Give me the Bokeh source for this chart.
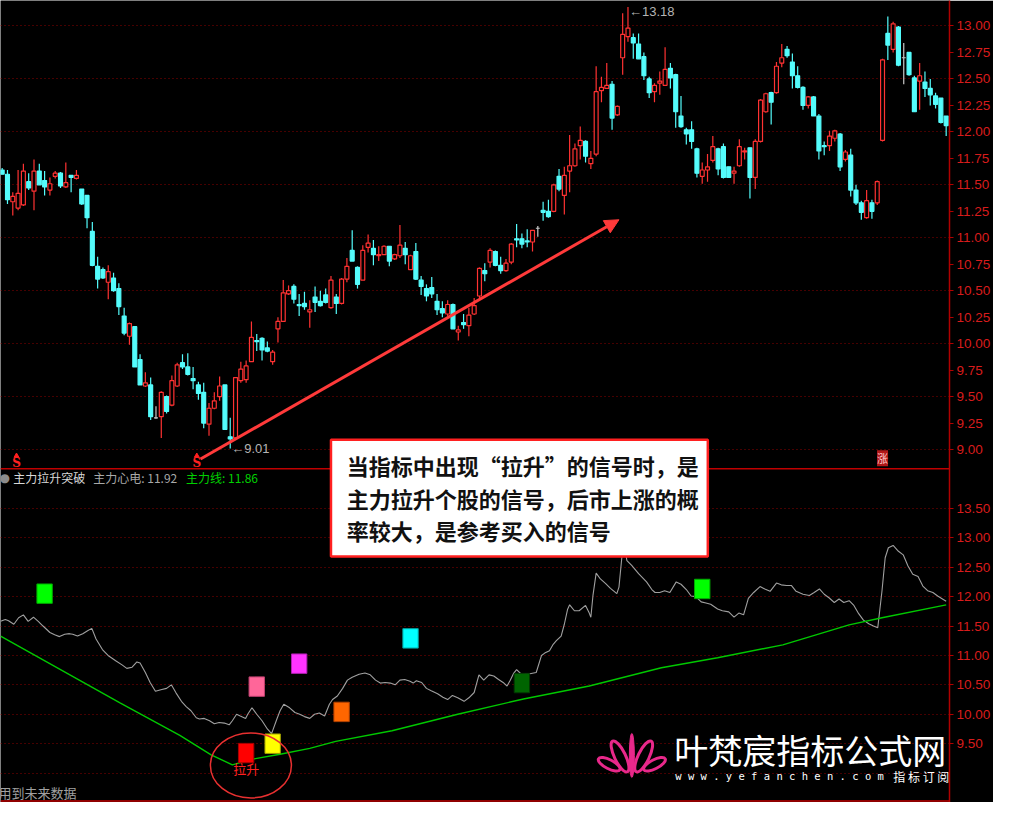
from bokeh.plotting import figure
from bokeh.models import (Range1d, LinearAxis, FixedTicker, Grid, Span, Label,
                          BoxAnnotation, Arrow, NormalHead, ColumnDataSource,
                          NumeralTickFormatter)
from bokeh.core.properties import value
from bokeh.embed import file_html
from bokeh.resources import INLINE

# ---------------- data ----------------
opens = [11.64, 11.60, 11.34, 11.28, 11.31, 11.53, 11.44, 11.63, 11.54, 11.45,
         11.58, 11.61, 11.48, 11.59, 11.56, 11.46, 11.40, 11.06, 10.73, 10.70,
         10.58, 10.62, 10.52, 10.26, 10.07, 10.16, 9.85, 9.60, 9.61, 9.30,
         9.31, 9.50, 9.42, 9.60, 9.82, 9.78, 9.67, 9.61, 9.54, 9.24,
         9.39, 9.50, 9.61, 9.12, 9.11, 9.65, 9.66, 9.83, 10.03, 10.05,
         9.96, 9.83, 10.14, 10.21, 10.47, 10.54, 10.37, 10.38, 10.30, 10.44,
         10.40, 10.46, 10.34, 10.44, 10.38, 10.61, 10.88, 10.72, 10.60, 10.91,
         10.90, 10.83, 10.84, 10.92, 10.80, 10.83, 10.90, 10.70, 10.87, 10.60,
         10.52, 10.53, 10.40, 10.33, 10.28, 10.37, 10.11, 10.20, 10.17, 10.28,
         10.45, 10.69, 10.77, 10.87, 10.74, 10.69, 10.77, 10.99, 10.99, 10.97,
         10.96, 11.09, 11.26, 11.25, 11.25, 11.58, 11.40, 11.63, 11.68, 11.87,
         11.91, 11.70, 11.79, 12.39, 12.41, 12.45, 12.16, 12.70, 12.90, 12.89,
         12.83, 12.71, 12.50, 12.38, 12.46, 12.44, 12.60, 12.54, 12.15, 12.02,
         12.02, 11.84, 11.58, 11.64, 11.73, 11.84, 11.86, 11.67, 11.61, 11.68,
         11.81, 11.85, 11.57, 11.91, 12.19, 12.37, 12.37, 12.65, 12.78, 12.66,
         12.53, 12.42, 12.25, 12.33, 12.15, 11.87, 11.87, 11.94, 11.98, 11.74,
         11.78, 11.45, 11.33, 11.19, 11.33, 11.33, 11.92, 12.93, 12.78, 12.99,
         12.70, 12.75, 12.51, 12.48, 12.47, 12.41, 12.34, 12.32, 12.15]
highs = [11.66, 11.64, 11.43, 11.64, 11.70, 11.61, 11.74, 11.70, 11.63, 11.57,
         11.63, 11.62, 11.71, 11.59, 11.64, 11.46, 11.40, 11.15, 10.82, 10.72,
         10.74, 10.67, 10.57, 10.34, 10.20, 10.16, 9.90, 9.73, 9.68, 9.41,
         9.55, 9.51, 9.70, 9.82, 9.90, 9.91, 9.78, 9.64, 9.63, 9.44,
         9.54, 9.69, 9.61, 9.30, 9.68, 9.83, 9.84, 10.21, 10.09, 10.06,
         10.02, 9.94, 10.25, 10.60, 10.55, 10.56, 10.47, 10.49, 10.41, 10.54,
         10.50, 10.52, 10.64, 10.47, 10.62, 10.81, 11.07, 10.73, 10.93, 11.03,
         10.98, 10.92, 10.93, 10.92, 10.85, 11.12, 10.96, 10.84, 10.95, 10.64,
         10.56, 10.63, 10.47, 10.40, 10.41, 10.38, 10.17, 10.28, 10.34, 10.43,
         10.72, 10.76, 10.90, 10.88, 10.82, 10.80, 10.95, 11.13, 11.04, 11.08,
         11.07, 11.11, 11.34, 11.36, 11.51, 11.65, 11.67, 11.97, 11.89, 12.05,
         11.92, 11.82, 12.62, 12.52, 12.65, 12.48, 12.25, 13.12, 13.18, 12.93,
         12.93, 12.75, 12.52, 12.46, 12.57, 12.80, 12.65, 12.55, 12.34, 12.04,
         12.10, 11.85, 11.71, 11.79, 11.96, 11.85, 11.89, 11.67, 11.67, 11.93,
         11.85, 11.85, 11.93, 12.31, 12.37, 12.38, 12.66, 12.83, 12.81, 12.74,
         12.62, 12.43, 12.34, 12.34, 12.17, 11.91, 12.01, 12.02, 11.99, 11.83,
         11.84, 11.50, 11.35, 11.45, 11.36, 11.54, 12.69, 13.09, 13.04, 13.00,
         12.84, 12.75, 12.53, 12.65, 12.57, 12.50, 12.37, 12.32, 12.15]
lows = [11.60, 11.32, 11.21, 11.26, 11.30, 11.45, 11.26, 11.50, 11.40, 11.40,
        11.56, 11.47, 11.47, 11.43, 11.55, 11.31, 11.09, 10.73, 10.52, 10.61,
        10.42, 10.49, 10.27, 10.08, 9.99, 9.78, 9.61, 9.59, 9.28, 9.29,
        9.11, 9.34, 9.41, 9.59, 9.76, 9.70, 9.57, 9.47, 9.20, 9.13,
        9.38, 9.46, 9.19, 9.01, 9.10, 9.63, 9.63, 9.83, 9.93, 9.84,
        9.92, 9.80, 10.01, 10.21, 10.46, 10.38, 10.26, 10.32, 10.15, 10.30,
        10.35, 10.38, 10.33, 10.28, 10.37, 10.58, 10.78, 10.52, 10.60, 10.86,
        10.74, 10.78, 10.84, 10.73, 10.79, 10.81, 10.75, 10.70, 10.60, 10.46,
        10.40, 10.43, 10.27, 10.25, 10.26, 10.14, 10.03, 10.14, 10.07, 10.27,
        10.43, 10.59, 10.72, 10.73, 10.66, 10.68, 10.75, 10.91, 10.90, 10.91,
        10.87, 11.01, 11.16, 11.19, 11.24, 11.44, 11.22, 11.43, 11.67, 11.74,
        11.71, 11.65, 11.77, 12.28, 12.41, 12.02, 12.15, 12.54, 12.85, 12.69,
        12.69, 12.49, 12.32, 12.28, 12.35, 12.44, 12.41, 12.04, 12.04, 11.88,
        11.84, 11.57, 11.51, 11.53, 11.71, 11.59, 11.56, 11.57, 11.51, 11.67,
        11.74, 11.37, 11.46, 11.90, 12.18, 12.07, 12.36, 12.61, 12.70, 12.41,
        12.41, 12.21, 12.22, 12.15, 11.74, 11.78, 11.82, 11.91, 11.63, 11.72,
        11.39, 11.31, 11.17, 11.18, 11.18, 11.31, 11.91, 12.68, 12.75, 12.62,
        12.45, 12.53, 12.19, 12.21, 12.33, 12.25, 12.22, 12.08, 11.96]
closes = [11.60, 11.36, 11.39, 11.42, 11.63, 11.47, 11.63, 11.50, 11.48, 11.51,
          11.61, 11.49, 11.52, 11.57, 11.59, 11.32, 11.19, 10.74, 10.61, 10.62,
          10.68, 10.50, 10.35, 10.10, 10.19, 9.78, 9.61, 9.63, 9.31, 9.30,
          9.54, 9.36, 9.65, 9.80, 9.78, 9.71, 9.65, 9.53, 9.25, 9.39,
          9.46, 9.60, 9.19, 9.10, 9.68, 9.76, 9.79, 10.06, 10.02, 9.94,
          9.93, 9.92, 10.21, 10.48, 10.50, 10.42, 10.36, 10.35, 10.32, 10.39,
          10.36, 10.39, 10.60, 10.38, 10.61, 10.73, 10.78, 10.56, 10.88, 10.95,
          10.84, 10.84, 10.92, 10.78, 10.84, 10.93, 10.84, 10.83, 10.61, 10.54,
          10.45, 10.47, 10.32, 10.29, 10.37, 10.14, 10.13, 10.18, 10.27, 10.36,
          10.71, 10.66, 10.88, 10.74, 10.69, 10.76, 10.94, 10.98, 10.94, 10.96,
          11.07, 11.09, 11.24, 11.20, 11.50, 11.46, 11.59, 11.68, 11.84, 11.92,
          11.77, 11.75, 12.38, 12.42, 12.44, 12.13, 12.24, 12.92, 12.98, 12.84,
          12.69, 12.53, 12.37, 12.44, 12.48, 12.59, 12.51, 12.19, 12.05, 11.98,
          11.91, 11.61, 11.64, 11.67, 11.86, 11.65, 11.57, 11.57, 11.63, 11.86,
          11.82, 11.57, 11.91, 12.30, 12.36, 12.28, 12.62, 12.70, 12.72, 12.53,
          12.42, 12.25, 12.33, 12.15, 11.82, 11.86, 11.96, 12.01, 11.67, 11.81,
          11.45, 11.33, 11.24, 11.35, 11.25, 11.53, 12.68, 12.82, 13.02, 12.63,
          12.70, 12.54, 12.19, 12.53, 12.41, 12.35, 12.26, 12.09, 12.06]

# 主力心电 (gray line): bar position, value
gray_x = [-0.3, 0.6, 1.2, 2.2, 3.1, 4.0, 4.9, 5.9, 6.8, 7.7,
          9.0, 9.9, 10.8, 11.8, 12.7, 13.3, 14.2, 15.2, 16.1, 16.9,
          17.7, 18.9, 20.1, 21.4, 22.6, 23.5, 24.5, 25.4, 26.0, 27.0,
          27.9, 28.9, 30.1, 31.0, 31.9, 32.8, 33.8, 34.7, 35.6, 36.6,
          37.2, 38.1, 39.1, 40.0, 40.9, 41.9, 42.8, 43.4, 44.2, 44.9,
          45.9, 46.3, 47.1, 48.0, 49.0, 50.0, 50.8, 51.8, 52.4, 53.1,
          54.2, 55.2, 56.1, 57.0, 58.0, 58.9, 59.8, 60.8, 61.7, 62.3,
          63.2, 64.2, 65.1, 66.0, 67.3, 68.4, 69.4, 70.4, 71.3, 72.2,
          73.2, 74.1, 75.0, 75.9, 76.9, 77.5, 78.1, 79.1, 80.0, 80.9,
          82.1, 83.1, 84.0, 84.9, 85.9, 87.1, 88.0, 89.0, 89.9, 90.8,
          91.8, 92.7, 93.6, 94.6, 95.2, 95.8, 96.4, 97.0, 97.9, 98.6,
          99.5, 100.7, 101.7, 102.3, 103.2, 103.9, 104.5, 105.4, 106.0, 106.6,
          107.0, 107.9, 108.8, 110.0, 110.7, 111.0, 111.4, 112.0, 112.8, 113.8,
          114.7, 115.9, 116.3, 116.9, 117.2, 117.8, 118.7, 120.0, 121.5, 122.5,
          123.1, 124.0, 124.9, 125.9, 127.1, 128.0, 129.0, 129.9, 130.8, 131.8,
          132.7, 133.6, 134.9, 135.8, 137.0, 138.0, 138.9, 139.8, 140.7, 141.7,
          142.9, 143.8, 144.8, 146.0, 146.9, 147.9, 148.8, 149.7, 151.0, 152.2,
          153.1, 154.1, 155.0, 155.9, 156.9, 157.8, 158.7, 159.7, 160.6, 161.5,
          162.4, 163.4, 164.3, 165.1, 165.9, 166.5, 167.1, 168.0, 169.0, 169.9,
          170.8, 171.7, 172.7, 173.6, 174.5, 175.5, 176.4, 177.3, 178.0]
gray_v = [11.58, 11.61, 11.59, 11.53, 11.64, 11.69, 11.58, 11.65, 11.58, 11.50,
          11.39, 11.35, 11.32, 11.36, 11.37, 11.36, 11.33, 11.37, 11.42, 11.46,
          11.28, 11.10, 10.99, 10.91, 10.84, 10.78, 10.80, 10.89, 10.87, 10.71,
          10.54, 10.39, 10.42, 10.44, 10.50, 10.36, 10.22, 10.13, 10.06, 9.94,
          9.92, 9.93, 9.89, 9.84, 9.86, 9.85, 9.82, 9.89, 10.00, 9.97,
          9.93, 10.00, 10.11, 10.00, 9.89, 9.75, 9.67, 9.92, 10.06, 10.17,
          10.11, 10.03, 10.00, 9.96, 9.93, 10.00, 10.02, 9.97, 10.17, 10.25,
          10.31, 10.44, 10.58, 10.63, 10.68, 10.70, 10.67, 10.58, 10.53, 10.54,
          10.53, 10.50, 10.58, 10.59, 10.56, 10.53, 10.57, 10.54, 10.44, 10.40,
          10.35, 10.29, 10.25, 10.32, 10.28, 10.22, 10.28, 10.37, 10.67, 10.58,
          10.67, 10.65, 10.59, 10.53, 10.48, 10.58, 10.69, 10.76, 10.68, 10.69,
          10.69, 10.71, 11.00, 11.04, 11.08, 11.19, 11.25, 11.33, 11.53, 11.78,
          11.86, 11.76, 11.76, 11.85, 11.72, 11.65, 12.02, 12.40, 12.30, 12.22,
          12.14, 12.05, 12.16, 12.72, 12.95, 12.61, 12.53, 12.39, 12.25, 12.12,
          12.07, 12.07, 12.10, 12.07, 12.25, 12.21, 12.12, 12.01, 12.00, 11.91,
          11.89, 11.87, 11.79, 11.76, 11.74, 11.65, 11.72, 11.69, 11.97, 12.07,
          12.17, 12.13, 12.09, 12.23, 12.20, 12.19, 12.19, 12.09, 12.04, 12.02,
          12.07, 12.13, 12.04, 11.98, 11.90, 11.96, 11.90, 11.93, 11.85, 11.71,
          11.60, 11.54, 11.50, 11.47, 12.10, 12.66, 12.83, 12.87, 12.77, 12.71,
          12.52, 12.38, 12.34, 12.18, 12.10, 12.07, 12.01, 11.96, 11.92]

# 主力线 (green line)
green_x = [-0.3, 22.3, 33.5, 39.4, 43.4, 47.4, 52.4, 58.0, 62.9, 73.5,
           85.9, 98.3, 110.7, 124.3, 134.9, 147.2, 159.7, 165.9, 178.0]
green_v = [11.33, 10.19, 9.64, 9.31, 9.14, 9.24, 9.32, 9.42, 9.54, 9.72,
           10.00, 10.26, 10.48, 10.79, 10.96, 11.18, 11.52, 11.64, 11.86]

# signal blocks in the indicator panel
signal_x = [8, 46, 48, 51, 56, 64, 77, 98, 132]
signal_v = [12.05, 9.34, 10.47, 9.50, 10.86, 10.04, 11.29, 10.53, 12.13]
signal_fill = ["#00ff00", "#ff0000", "#ff6699", "#ffff00", "#ff33ff",
               "#ff6600", "#00ffff", "#006400", "#00ff00"]
signal_line = ["#00aa00", "#aa0000", "#c04070", "#a0a000", "#b020b0",
               "#b04000", "#00a0a0", "#003800", "#00aa00"]
lift_label = "拉升"

# "S" marks and "涨" mark under the price panel (bar positions)
s_marks = [2.7, 36.7]
zhang_mark = 166

# trend arrow (bar, price)
trend_arrow = (37.4, 8.91, 116.3, 11.17)

price_ticks = [9.00, 9.25, 9.50, 9.75, 10.00, 10.25, 10.50, 10.75, 11.00,
               11.25, 11.50, 11.75, 12.00, 12.25, 12.50, 12.75, 13.00]
price_grid = [9.0, 9.5, 10.0, 10.5, 11.0, 11.5, 12.0, 12.5, 13.0]
ind_ticks = [9.50, 10.00, 10.50, 11.00, 11.50, 12.00, 12.50, 13.00, 13.50]
ind_grid = [9.0, 9.5, 10.0, 10.5, 11.0, 11.5, 12.0, 12.5, 13.0, 13.5]

text_lines = ["当指标中出现“拉升”的信号时，是",
              "主力拉升个股的信号，后市上涨的概",
              "率较大，是参考买入的信号"]

# ---------------- layout helpers (reference pixel frame) ----------------
X0, DX = 1.7, 5.376
def ix(px):
    return (px - X0) / DX
def py(pyref):
    return 13.0 - (pyref - 26.0) / 108.0
def iy(pyref):
    return 13.5 - (pyref - 518.0) / 60.0

RED = "#ff3232"
CYAN = "#54fcfc"
DOJI = "#c8c8c8"
AXRED = "#d81c1c"

p = figure(width=993, height=802,
           x_range=Range1d(ix(0), ix(962)), y_range=Range1d(py(818), py(0)),
           output_backend="svg", toolbar_location=None,
           x_axis_location=None, y_axis_location=None,
           background_fill_color="black", border_fill_color="black",
           outline_line_color=None,
           min_border_left=0, min_border_right=40, min_border_top=0, min_border_bottom=0)
p.grid.visible = False
p.extra_y_ranges = {"ind": Range1d(iy(818), iy(0)), "px": Range1d(818, 0)}
p.extra_x_ranges = {"px": Range1d(0, 962)}

# grids
p.add_layout(Grid(dimension=1, ticker=FixedTicker(ticks=price_grid),
                  grid_line_color="#8c0000", grid_line_dash="1 3", grid_line_width=1))
p.add_layout(Grid(dimension=1, ticker=FixedTicker(ticks=ind_grid), y_range_name="ind",
                  grid_line_color="#8c0000", grid_line_dash="1 3", grid_line_width=1))

# axis on the right covering both panels
pr = p.y_range
ir = p.extra_y_ranges["ind"]
def ind_to_price(v):
    return pr.start + (v - ir.start) * (pr.end - pr.start) / (ir.end - ir.start)
ax_ticks = list(price_ticks) + [ind_to_price(v) for v in ind_ticks]
overrides = {t: f"{t:.2f}" for t in price_ticks}
for v in ind_ticks:
    overrides[ind_to_price(v)] = f"{v:.2f}"
axis = LinearAxis(ticker=FixedTicker(ticks=ax_ticks), major_label_overrides=overrides,
                  formatter=NumeralTickFormatter(format="0.00"),
                  axis_line_color="#b00000", axis_line_width=1.5,
                  major_tick_line_color="#b00000", major_tick_out=4, major_tick_in=0,
                  minor_tick_line_color=None,
                  major_label_text_color=AXRED, major_label_text_font="Liberation Sans",
                  major_label_text_font_size="13.5px", major_label_standoff=3)
p.add_layout(axis, "right")

# panel dividers
p.add_layout(Span(location=477.5, dimension="width", y_range_name="px",
                  line_color="#c00000", line_width=1.5))
p.add_layout(Span(location=816.5, dimension="width", y_range_name="px",
                  line_color="#c00000", line_width=1.5))

# candles
n = len(opens)
lc, fc, tops, bots = [], [], [], []
for o, c in zip(opens, closes):
    if c > o:
        lc.append(RED); fc.append("black")
    elif c < o:
        lc.append(CYAN); fc.append(CYAN)
    else:
        lc.append(DOJI); fc.append(DOJI)
    tops.append(max(o, c)); bots.append(min(o, c))
src = ColumnDataSource(dict(x=list(range(n)), high=highs, low=lows,
                            top=tops, bottom=bots, lc=lc, fc=fc))
p.segment("x", "high", "x", "low", source=src, line_color="lc", line_width=1.2)
p.vbar(x="x", width=0.74, top="top", bottom="bottom", source=src,
       fill_color="fc", line_color="lc", line_width=1.2)

# extreme labels
i_low = lows.index(min(lows))
i_high = highs.index(max(highs))
p.text(x=[i_low], y=[lows[i_low]], text=[f"←{lows[i_low]:.2f}"], x_offset=1,
       text_align="left", text_baseline="middle", text_color="#b4b4b4",
       text_font=value("Liberation Sans"), text_font_size="13px")
p.text(x=[i_high], y=[highs[i_high]], text=[f"←{highs[i_high]:.2f}"], x_offset=1, y_offset=5,
       text_align="left", text_baseline="middle", text_color="#b4b4b4",
       text_font=value("Liberation Sans"), text_font_size="13px")

# S marks
p.scatter(x=s_marks, y=[py(464.5)] * len(s_marks), marker="triangle", size=5,
          color="#ff2020")
p.text(x=s_marks, y=[py(472)] * len(s_marks), text=["S"] * len(s_marks),
       text_align="center", text_baseline="middle", text_color="#ff2020",
       text_font=value("DejaVu Serif"), text_font_style="bold", text_font_size="12px")

# trend arrow
xa0, ya0, xa1, ya1 = trend_arrow
p.add_layout(Arrow(end=NormalHead(size=14, fill_color="#ff3a3a", line_color="#ff3a3a"),
                   x_start=xa0, y_start=ya0, x_end=xa1, y_end=ya1,
                   line_color="#ff3a3a", line_width=3))

# indicator lines
p.line(gray_x, gray_v, y_range_name="ind", line_color="#a0a0a0", line_width=1.1)
p.line(green_x, green_v, y_range_name="ind", line_color="#00c800", line_width=1.4)

# signal blocks
p.rect(x=signal_x, y=signal_v, width=2.9, height=0.33, y_range_name="ind",
       fill_color=signal_fill, line_color=signal_line, line_width=1)
p.text(x=[signal_x[1]], y=[signal_v[1] - 0.26], text=[lift_label], y_range_name="ind",
       text_align="center", text_baseline="middle", text_color="#ff2020",
       text_font=value("Noto Sans CJK SC"), text_font_size="13px")
p.ellipse(x=[signal_x[1] + 0.9], y=[signal_v[1] - 0.21], width=81, height=65,
          width_units="screen", height_units="screen", y_range_name="ind",
          fill_color=None, line_color="#e83030", line_width=1.5)

# watermark logo (decorative)
PINK = "#e8288a"
p.ellipse(x=[640], y=[770], width=5, height=44, width_units="screen", height_units="screen",
          x_range_name="px", y_range_name="px", fill_color=PINK, line_color=PINK)
p.ellipse(x=[628, 652], y=[771, 771], width=11, height=34, angle=[0.45, -0.45],
          width_units="screen", height_units="screen",
          x_range_name="px", y_range_name="px", fill_color=None, line_color=PINK, line_width=3)
p.ellipse(x=[617, 663], y=[779, 779], width=9, height=24, angle=[1.1, -1.1],
          width_units="screen", height_units="screen",
          x_range_name="px", y_range_name="px", fill_color=None, line_color=PINK, line_width=3)

def lab(text, x, y, size, color, font="Noto Sans CJK SC", style="normal",
        align="left", baseline="middle", **kw):
    p.add_layout(Label(x=x, y=y, text=text, x_range_name="px", y_range_name="px",
                       text_font=font, text_font_size=size, text_color=color,
                       text_font_style=style, text_align=align,
                       text_baseline=baseline, **kw))

# indicator legend
lab("●", -1, 487, "12px", "#8c8c8c", font="DejaVu Sans")
lab("主力拉升突破", 13, 487, "12px", "#d8d8d8")
lab(f"主力心电: {gray_v[-1]:.2f}", 94, 487, "12px", "#a8a8a8")
lab(f"主力线: {green_v[-1]:.2f}", 188, 487, "12px", "#00d000")

# bottom-left note
lab("用到未来数据", -2, 808, "13px", "#a0a0a0")

# 涨 mark
p.add_layout(Label(x=zhang_mark, y=py(467), text="涨", text_align="center",
                   text_baseline="middle", text_font="Noto Sans CJK SC",
                   text_font_size="11px", text_color="#ffc8c8",
                   background_fill_color="#b01818"))

# watermark text
lab("叶梵宸指标公式网", 683, 764, "34px", "#ffffff")
lab("w w w . y e f a n c h e n . c o m", 684, 791, "10.5px", "#ffffff", font="DejaVu Sans Mono")
lab("指 标 订 阅", 905, 791, "12px", "#ffffff")

# callout box
p.add_layout(BoxAnnotation(left=335, right=717, top=448, bottom=567,
                           x_range_name="px", y_range_name="px",
                           fill_color="white", fill_alpha=1.0,
                           line_color="#ff2020", line_width=2.5, line_alpha=1.0))
for k, t in enumerate(text_lines):
    lab(t, 351, 474 + 33 * k, "22px", "#111111", style="bold")

open("out.html", "w").write(file_html(p, INLINE))
